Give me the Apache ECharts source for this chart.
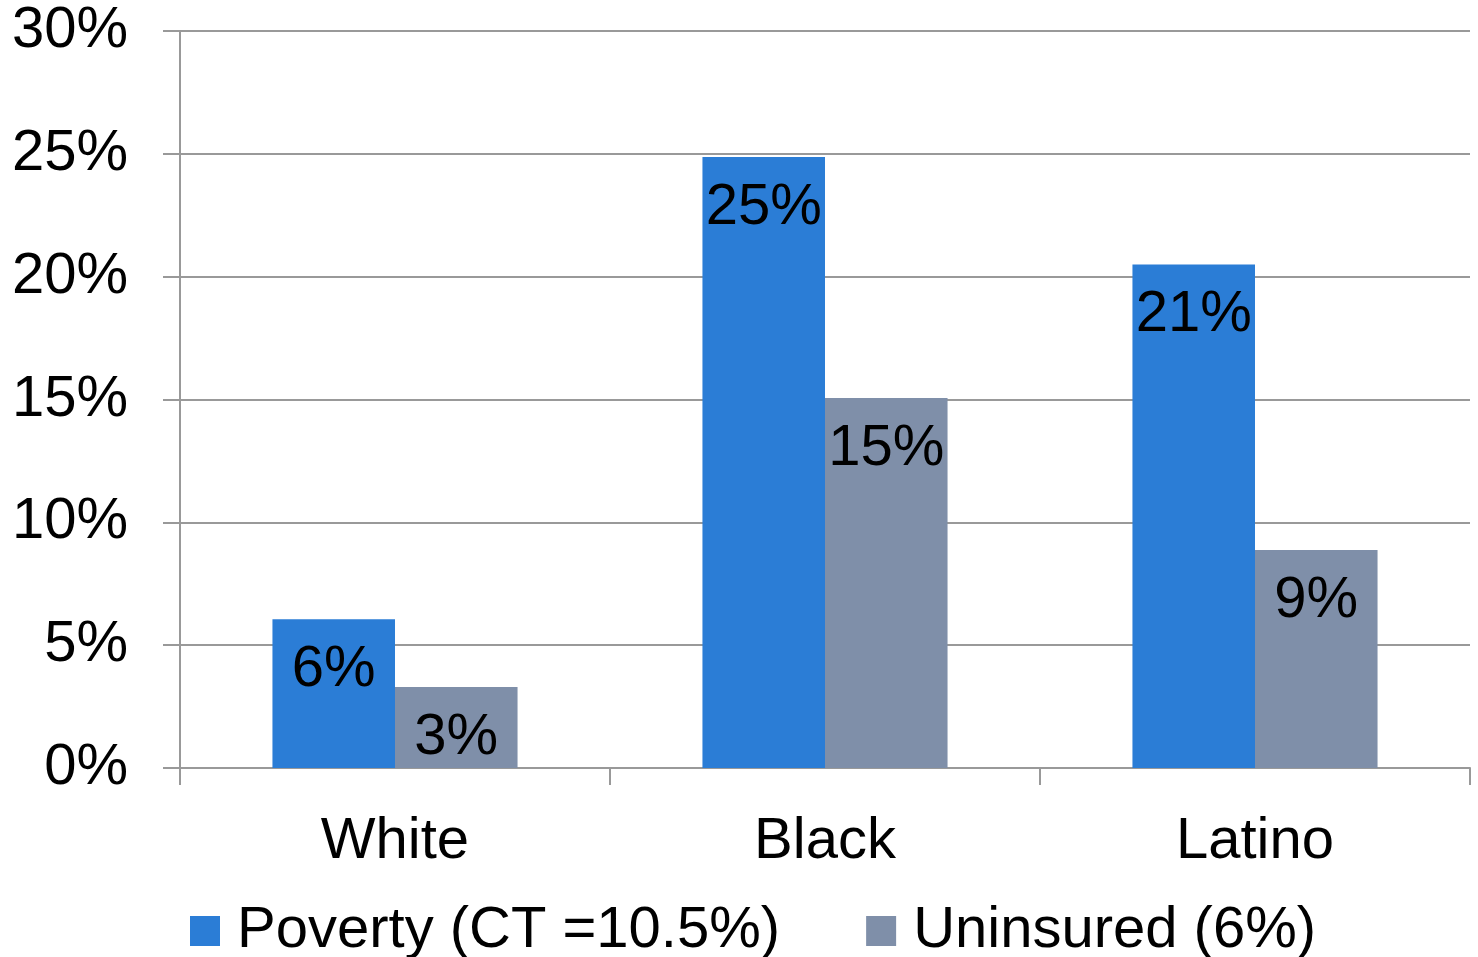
<!DOCTYPE html>
<html>
<head>
<meta charset="utf-8">
<style>
  html, body { margin: 0; padding: 0; background: #fff; }
  #chart { width: 1478px; height: 957px; }
</style>
<script src="https://cdn.jsdelivr.net/npm/echarts@6/dist/echarts.min.js"></script>
</head>
<body>
<div id="chart"></div>
<script>
// values, in percent
var categories = ['White', 'Black', 'Latino']
var poverty = [6.06, 24.87, 20.5]
var uninsured = [3.3, 15.06, 8.87]
var seriesNames = ['Poverty (CT =10.5%)', 'Uninsured (6%)']
var yTicks = [0, 5, 10, 15, 20, 25, 30]

var font = '"Liberation Sans", Arial, sans-serif'
var chart = echarts.init(document.getElementById('chart'))

var barLabel = {
  show: true,
  position: 'insideTop',
  distance: 22,
  color: '#000',
  fontFamily: font,
  fontSize: 58,
  formatter: function (p) { return Math.round(p.value) + '%' }
}

chart.setOption({
  backgroundColor: '#fff',
  animation: false,
  grid: {
    left: 180,
    right: 8,
    top: 31,
    bottom: 189
  },
  legend: {
    left: 185,
    top: 897,
    itemWidth: 30,
    itemHeight: 30,
    itemGap: 86,
    icon: 'rect',
    textStyle: {
      fontFamily: font,
      fontSize: 58,
      color: '#000',
      padding: [0, 0, 0, 12]
    },
    data: seriesNames
  },
  xAxis: {
    type: 'category',
    data: categories,
    axisLine: { lineStyle: { color: '#999', width: 2 } },
    axisTick: { show: true, length: 17, lineStyle: { color: '#999', width: 2 } },
    axisLabel: {
      color: '#000',
      fontFamily: font,
      fontSize: 58,
      margin: 45
    }
  },
  yAxis: {
    type: 'value',
    min: yTicks[0],
    max: yTicks[yTicks.length - 1],
    interval: yTicks[1] - yTicks[0],
    axisLine: { show: true, lineStyle: { color: '#999', width: 2 } },
    axisTick: { show: true, length: 17, lineStyle: { color: '#999', width: 2 } },
    splitLine: { lineStyle: { color: '#999', width: 2 } },
    axisLabel: {
      color: '#000',
      fontFamily: font,
      fontSize: 58,
      margin: 52,
      padding: [10, 0, 0, 0],
      formatter: '{value}%'
    }
  },
  series: [
    {
      name: seriesNames[0],
      type: 'bar',
      data: poverty,
      barGap: '0%',
      barCategoryGap: '43%',
      itemStyle: { color: '#2B7DD6' },
      label: barLabel
    },
    {
      name: seriesNames[1],
      type: 'bar',
      data: uninsured,
      itemStyle: { color: '#7F8FA9' },
      label: barLabel
    }
  ]
})
</script>
</body>
</html>
